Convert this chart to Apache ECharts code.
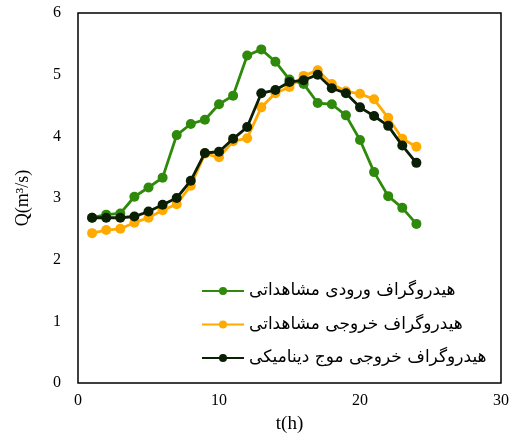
<!DOCTYPE html>
<html>
<head>
<meta charset="utf-8">
<script src="https://cdn.jsdelivr.net/npm/echarts@6/dist/echarts.min.js"></script>
<style>
  html, body { margin: 0; padding: 0; background: #fff; }
  #chart { width: 512px; height: 441px; }
</style>
</head>
<body>
<div id="chart"></div>
<script>
// time steps (h)
const hours = [1, 2, 3, 4, 5, 6, 7, 8, 9, 10, 11, 12, 13, 14, 15, 16, 17, 18, 19, 20, 21, 22, 23, 24];

// discharge values (m3/s)
const inflowObserved = [2.68, 2.73, 2.75, 3.02, 3.17, 3.33, 4.02, 4.2, 4.27, 4.52, 4.66, 5.31, 5.41, 5.21, 4.92, 4.85, 4.54, 4.52, 4.34, 3.94, 3.42, 3.03, 2.84, 2.58];
const outflowObserved = [2.43, 2.48, 2.5, 2.6, 2.68, 2.8, 2.9, 3.2, 3.72, 3.66, 3.92, 3.97, 4.47, 4.7, 4.8, 4.98, 5.07, 4.85, 4.73, 4.69, 4.6, 4.3, 3.96, 3.83];
const outflowDynamic = [2.68, 2.68, 2.68, 2.7, 2.78, 2.89, 3.0, 3.28, 3.73, 3.75, 3.96, 4.15, 4.7, 4.75, 4.88, 4.91, 5.0, 4.78, 4.7, 4.47, 4.33, 4.17, 3.85, 3.57];

const seriesNames = [
  'هیدروگراف ورودی مشاهداتی',
  'هیدروگراف خروجی مشاهداتی',
  'هیدروگراف خروجی موج دینامیکی'
];
const seriesColors = ['#2f8a0c', '#ffaa00', '#0b1f06'];

const toPairs = vals => vals.map((v, i) => [hours[i], v]);

const chart = echarts.init(document.getElementById('chart'));

const serifFont = '"Liberation Serif", "DejaVu Serif", serif';

const makeSeries = (name, vals, color, z) => ({
  name: name,
  type: 'line',
  data: toPairs(vals),
  symbol: 'circle',
  symbolSize: 10,
  z: z,
  lineStyle: { color: color, width: 2.8 },
  itemStyle: { color: color },
  emphasis: { disabled: true }
});

chart.setOption({
  animation: false,
  grid: {
    left: 78,
    right: 5,
    top: 13,
    bottom: 58,
    show: true,
    borderColor: '#000',
    borderWidth: 1.5,
    backgroundColor: 'transparent'
  },
  legend: {
    orient: 'vertical',
    left: 196,
    top: 276,
    itemWidth: 42,
    itemHeight: 10,
    itemGap: 13.5,
    data: seriesNames,
    textStyle: {
      fontSize: 17,
      lineHeight: 20,
      color: '#000',
      fontFamily: '"DejaVu Sans", sans-serif'
    }
  },
  xAxis: {
    type: 'value',
    min: 0,
    max: 30,
    interval: 10,
    name: 't(h)',
    nameLocation: 'middle',
    nameGap: 32,
    nameTextStyle: { fontSize: 19, color: '#000', fontFamily: serifFont },
    axisLine: { show: false },
    axisTick: { show: false },
    splitLine: { show: false },
    axisLabel: { fontSize: 16, color: '#000', fontFamily: serifFont, margin: 10 }
  },
  yAxis: {
    type: 'value',
    min: 0,
    max: 6,
    interval: 1,
    name: 'Q(m³/s)',
    nameLocation: 'middle',
    nameGap: 46,
    nameTextStyle: { fontSize: 18, color: '#000', fontFamily: serifFont },
    axisLine: { show: false },
    axisTick: { show: false },
    splitLine: { show: false },
    axisLabel: { fontSize: 16, color: '#000', fontFamily: serifFont, margin: 17 }
  },
  series: [
    makeSeries(seriesNames[0], inflowObserved, seriesColors[0], 2),
    makeSeries(seriesNames[1], outflowObserved, seriesColors[1], 3),
    makeSeries(seriesNames[2], outflowDynamic, seriesColors[2], 4)
  ]
});
</script>
</body>
</html>
